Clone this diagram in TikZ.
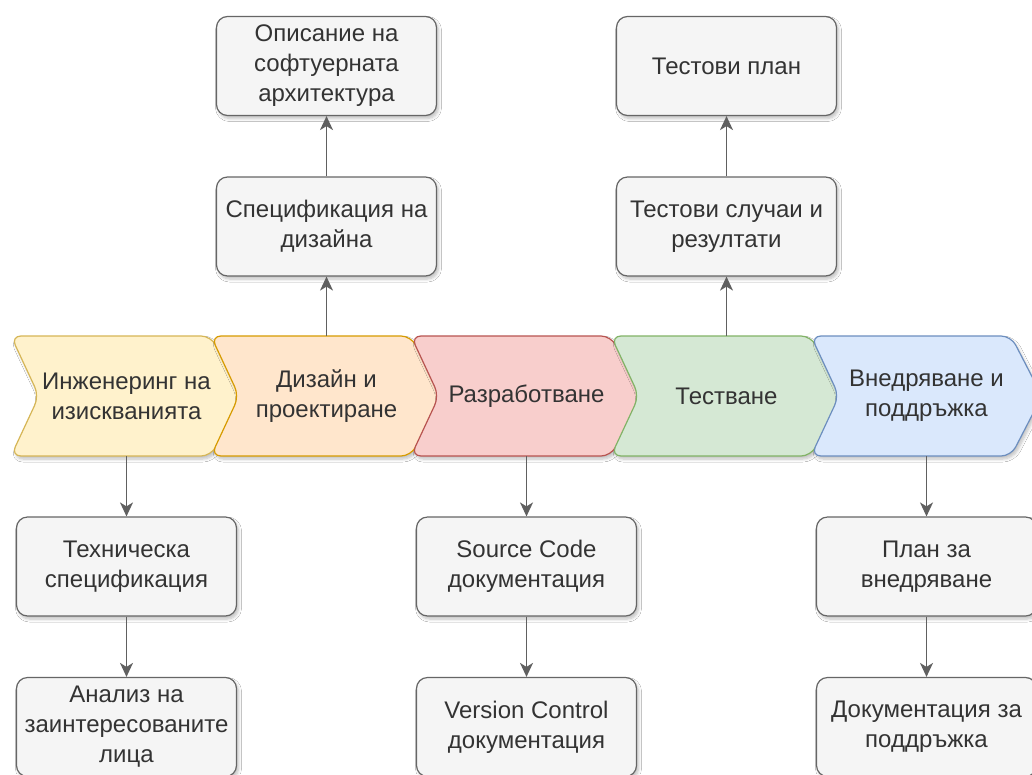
\documentclass[tikz,border=0pt]{standalone}
\usepackage{fontspec}
\setmainfont{Liberation Sans}
\usetikzlibrary{arrows.meta,shadows.blur}
\definecolor{boxfill}{HTML}{F5F5F5}
\definecolor{boxline}{HTML}{666666}
\definecolor{txt}{HTML}{333333}
\definecolor{arr}{HTML}{606060}
\definecolor{yfill}{HTML}{FFF2CC}\definecolor{yline}{HTML}{D6B656}
\definecolor{ofill}{HTML}{FFE6CC}\definecolor{oline}{HTML}{D79B00}
\definecolor{rfill}{HTML}{F8CECC}\definecolor{rline}{HTML}{B85450}
\definecolor{gfill}{HTML}{D5E8D4}\definecolor{gline}{HTML}{82B366}
\definecolor{bfill}{HTML}{DAE8FC}\definecolor{bline}{HTML}{6C8EBF}
\tikzset{
  docbox/.style={draw=boxline, fill=boxfill, line width=1.2pt, rounded corners=11pt,
    minimum width=220pt, minimum height=99pt, inner sep=0pt, align=center,
    text=txt, font=\fontsize{24}{30}\selectfont,
    blur shadow={shadow xshift=2pt, shadow yshift=-3pt, shadow opacity=25, shadow blur steps=6, shadow blur radius=3pt}},
  chevlabel/.style={minimum width=200pt, minimum height=120pt, inner sep=0pt, align=center,
    text=txt, font=\fontsize{24}{30}\selectfont},
  chevshape/.style={line width=1.2pt, rounded corners=10pt,
    blur shadow={shadow xshift=2pt, shadow yshift=-3pt, shadow opacity=25, shadow blur steps=6, shadow blur radius=3pt}},
  conn/.style={draw=arr, line width=1.3pt, -{Stealth[length=14pt,width=13pt,inset=4pt]}}
}
\newcommand{\chevpath}[3]{%
  \path[chevshape, fill=#2, draw=#3] (#1,336) -- (#1+200,336) -- (#1+231,396) -- (#1+200,456) -- (#1,456) -- (#1+28,396) -- cycle;}
\begin{document}
\begin{tikzpicture}[x=1pt,y=-1pt]
\clip (0,0) rectangle (1032,774);
\fill[white] (0,0) rectangle (1032,774);
% chevrons
\chevpath{11}{yfill}{yline}
\chevpath{211}{ofill}{oline}
\chevpath{411}{rfill}{rline}
\chevpath{611}{gfill}{gline}
\chevpath{811}{bfill}{bline}
\node[chevlabel] (c1) at (126.5,396) {Инженеринг на\\изискванията};
\node[chevlabel] (c2) at (326.5,396) {Дизайн и\\проектиране};
\node[chevlabel] (c3) at (526.5,396) {Разработване};
\node[chevlabel] (c4) at (726.5,396) {Тестване};
\node[chevlabel] (c5) at (926.5,396) {Внедряване и\\поддръжка};
% boxes
\node[docbox] (t1) at (326.5,66) {Описание на\\софтуерната\\архитектура};
\node[docbox] (t2) at (326.5,226.5) {Спецификация на\\дизайна};
\node[docbox] (t3) at (726.5,66) {Тестови план};
\node[docbox] (t4) at (726.5,226.5) {Тестови случаи и\\резултати};
\node[docbox] (b1) at (126.5,566.5) {Техническа\\спецификация};
\node[docbox] (b2) at (126.5,727) {Анализ на\\заинтересованите\\лица};
\node[docbox] (b3) at (526.5,566.5) {Source Code\\документация};
\node[docbox] (b4) at (526.5,727) {Version Control\\документация};
\node[docbox] (b5) at (926.5,566.5) {План за\\внедряване};
\node[docbox] (b6) at (926.5,727) {Документация за\\поддръжка};
% connectors
\draw[conn] (c1.south) -- (b1.north);
\draw[conn] (b1) -- (b2);
\draw[conn] (c2.north) -- (t2.south);
\draw[conn] (t2) -- (t1);
\draw[conn] (c3.south) -- (b3.north);
\draw[conn] (b3) -- (b4);
\draw[conn] (c4.north) -- (t4.south);
\draw[conn] (t4) -- (t3);
\draw[conn] (c5.south) -- (b5.north);
\draw[conn] (b5) -- (b6);
\end{tikzpicture}
\end{document}
